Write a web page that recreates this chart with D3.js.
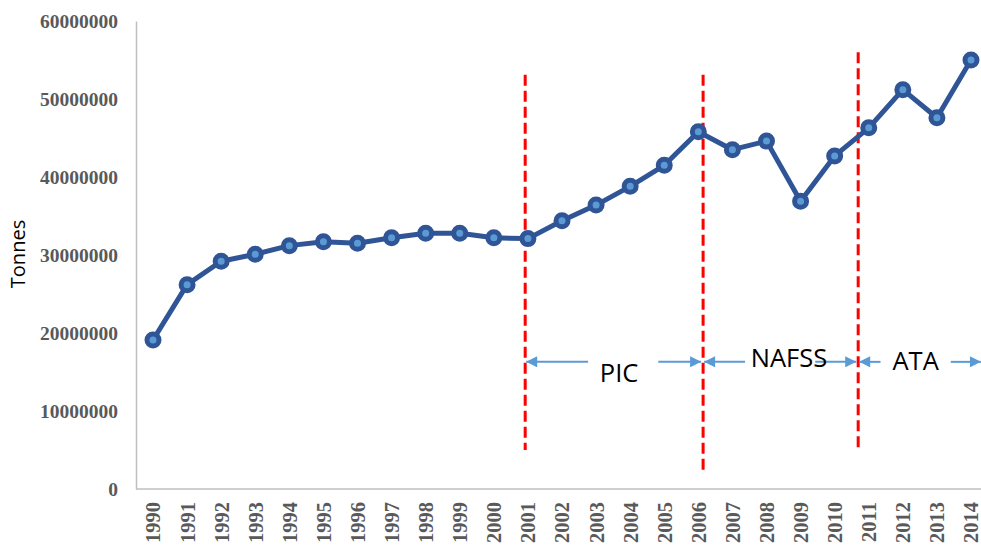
<!DOCTYPE html>
<html>
<head>
<meta charset="utf-8">
<script src="https://cdn.jsdelivr.net/npm/d3@7"></script>
<style>
  body { margin: 0; background: #fff; }
  svg { display: block; }
</style>
</head>
<body>
<svg id="chart" width="981" height="555"></svg>
<script>
// production by year
const years = d3.range(1990, 2015);
const tonnes = [
  19100000, 26200000, 29200000, 30100000, 31200000, 31700000, 31500000,
  32200000, 32800000, 32800000, 32200000, 32100000, 34400000, 36400000,
  38800000, 41500000, 45800000, 43500000, 44600000, 36900000, 42700000,
  46300000, 51200000, 47600000, 55000000
];
const yTicks = [0, 10000000, 20000000, 30000000, 40000000, 50000000, 60000000];

// policy periods
const periodNames = ['PIC', 'NAFSS', 'ATA'];
const dividerYears = [2000.92, 2006.14, 2010.69];
const dividerTop = [53100000, 53100000, 56000000];
const dividerBottom = [5000000, 2200000, 5000000];

const svg = d3.select('#chart');

const x = d3.scaleLinear().domain([1990, 2014]).range([153, 971]);
const y = d3.scaleLinear().domain([0, 60000000]).range([489, 21]);

const axisColor = '#bfbfbf';
const labelColor = '#595959';

// y axis
svg.append('g')
  .attr('transform', 'translate(136,0)')
  .call(d3.axisLeft(y).tickValues(yTicks).tickSize(0).tickPadding(18).tickFormat(d3.format('d')))
  .call(g => g.select('.domain').attr('stroke', axisColor).attr('stroke-width', 1.5))
  .call(g => g.selectAll('.tick text')
    .attr('font-family', '"Liberation Serif", "Times New Roman", serif')
    .attr('font-weight', 'bold')
    .attr('font-size', 19.5)
    .attr('fill', labelColor));

// x axis
svg.append('g')
  .attr('transform', 'translate(0,489)')
  .call(d3.axisBottom(x).tickValues(years).tickSize(0).tickFormat(d3.format('d')))
  .call(g => g.select('.domain').attr('stroke', axisColor).attr('stroke-width', 1.5)
    .attr('d', 'M136,0H990'))
  .call(g => g.selectAll('.tick text')
    .attr('transform', 'rotate(-90)')
    .attr('text-anchor', 'end')
    .attr('x', -13)
    .attr('y', 0)
    .attr('dy', '0.34em')
    .attr('font-family', '"Liberation Serif", "Times New Roman", serif')
    .attr('font-weight', 'bold')
    .attr('font-size', 20.5)
    .attr('fill', labelColor));

// y title
svg.append('text')
  .attr('transform', 'translate(25,254) rotate(-90)')
  .attr('text-anchor', 'middle')
  .attr('font-family', '"Open Sans", "Liberation Sans", sans-serif')
  .attr('font-size', 20)
  .attr('fill', '#000')
  .text('Tonnes');

// dividers
svg.append('g').selectAll('line')
  .data(dividerYears)
  .join('line')
  .attr('x1', d => x(d)).attr('x2', d => x(d))
  .attr('y1', (d, i) => y(dividerTop[i]))
  .attr('y2', (d, i) => y(dividerBottom[i]))
  .attr('stroke', '#ff0000')
  .attr('stroke-width', 3)
  .attr('stroke-dasharray', '11,5');

// arrows
const defs = svg.append('defs');
defs.append('marker')
  .attr('id', 'head')
  .attr('viewBox', '0 0 10 10')
  .attr('refX', 10).attr('refY', 5)
  .attr('markerWidth', 14).attr('markerHeight', 11)
  .attr('markerUnits', 'userSpaceOnUse')
  .attr('orient', 'auto')
  .append('path')
  .attr('d', 'M0,0L10,5L0,10Z')
  .attr('fill', '#5b9bd5');

const arrowY = y(16300000);
const arrowColor = '#5b9bd5';
const periodEnds = [dividerYears[0], dividerYears[1], dividerYears[2], 2014.35];
const textY = [y(13700000), y(15700000), y(15200000)];
const gapShift = [0.28, 0.0, -0.13];   // centre of the gap in each arrow, years from middle
const gapHalf = [1.03, 1.03, 1.03];
const textShift = [0.16, 0.26, -0.13];

const ag = svg.append('g');
const unit = x(1991) - x(1990);
periodNames.forEach((name, i) => {
  const a = x(periodEnds[i]) + 1;
  const b = x(periodEnds[i + 1]) - 2;
  const mid = (a + b) / 2;
  const gc = mid + gapShift[i] * unit;
  const half = gapHalf[i] * unit;
  ag.append('line')
    .attr('x1', gc - half).attr('x2', a)
    .attr('y1', arrowY).attr('y2', arrowY)
    .attr('stroke', arrowColor).attr('stroke-width', 2)
    .attr('marker-end', 'url(#head)');
  ag.append('line')
    .attr('x1', gc + half).attr('x2', b)
    .attr('y1', arrowY).attr('y2', arrowY)
    .attr('stroke', arrowColor).attr('stroke-width', 2)
    .attr('marker-end', 'url(#head)');
  ag.append('text')
    .attr('x', mid + textShift[i] * unit)
    .attr('y', textY[i])
    .attr('text-anchor', 'middle')
    .attr('font-family', '"Open Sans", "Liberation Sans", sans-serif')
    .attr('font-size', 25.5)
    .attr('fill', '#000')
    .text(name);
});

// series
const data = years.map((yr, i) => ({ year: yr, value: tonnes[i] }));

svg.append('path')
  .datum(data)
  .attr('fill', 'none')
  .attr('stroke', '#2f5597')
  .attr('stroke-width', 5)
  .attr('stroke-linejoin', 'round')
  .attr('d', d3.line().x(d => x(d.year)).y(d => y(d.value)));

svg.append('g').selectAll('circle')
  .data(data)
  .join('circle')
  .attr('cx', d => x(d.year))
  .attr('cy', d => y(d.value))
  .attr('r', 6)
  .attr('fill', '#5b9bd5')
  .attr('stroke', '#2f5597')
  .attr('stroke-width', 5);
</script>
</body>
</html>
